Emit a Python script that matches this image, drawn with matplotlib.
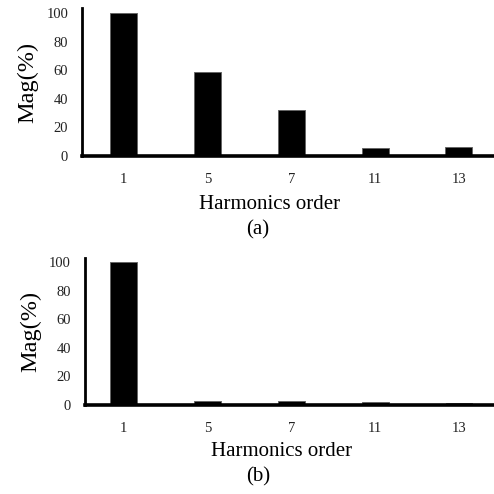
import numpy as np
import matplotlib
matplotlib.use('Agg')
from matplotlib import pyplot as plt

plt.rcParams['font.family'] = ['Liberation Serif', 'DejaVu Serif']

#Harmonic spectrum data
orders = ['1', '5', '7', '11', '13']
mag_a = [100, 58.5, 32, 5.5, 6.5]   # (a) before compensation
mag_b = [100, 2.8, 2.8, 1.8, 1.3]   # (b) after compensation
panel_tags = ['(a)', '(b)']

W = 494.0 #figure size in px
fig = plt.figure(figsize=(4.94, 4.94), dpi=100)

def px(x, y, w, h):
    #convert pixel box (top-left origin) to figure fraction
    return [x/W, 1-(y+h)/W, w/W, h/W]

# axes boxes in px: left spine x, top y, width, height
boxes = [(82, 8, 418.75, 148), (84.7, 258.3, 416.1, 146.7)]
xlims = [(-0.5, 4.5), (-0.468, 4.5)]
ytops = [103.5, 102.6]
label_x = [0.449, 0.472]
label_y = [-0.266, -0.251]

for k, mags in enumerate([mag_a, mag_b]):
    bx = boxes[k]
    ax = fig.add_axes(px(*bx))
    pos = np.arange(len(orders))
    ax.bar(pos, mags, width=0.32, color='black', edgecolor='#666666', linewidth=0.7, zorder=2)
    ax.set_xlim(*xlims[k])
    ax.set_ylim(0, ytops[k])
    ax.set_xticks(pos)
    ax.set_xticklabels(orders)
    ax.set_yticks([0, 20, 40, 60, 80, 100])
    ax.tick_params(axis='both', length=0, labelsize=10.5, labelcolor='#222222')
    ax.tick_params(axis='x', pad=12)
    ax.tick_params(axis='y', pad=10)
    for s in ['top', 'right']:
        ax.spines[s].set_visible(False)
    ax.spines['left'].set_linewidth(2.0)
    ax.spines['bottom'].set_linewidth(2.6)
    ax.spines['bottom'].set_zorder(3)
    ax.set_xlabel('Harmonics order', fontsize=15)
    ax.xaxis.set_label_coords(label_x[k], label_y[k])
    ax.set_ylabel('Mag(%)', fontsize=17.5)
    ax.yaxis.set_label_coords(-0.105, 0.5)
    # panel tag under the axis label
    fig.text(258/W, 1-(230 + 247*k)/W, panel_tags[k], fontsize=15, ha='center', va='center')

plt.savefig('out.png', dpi=100)
